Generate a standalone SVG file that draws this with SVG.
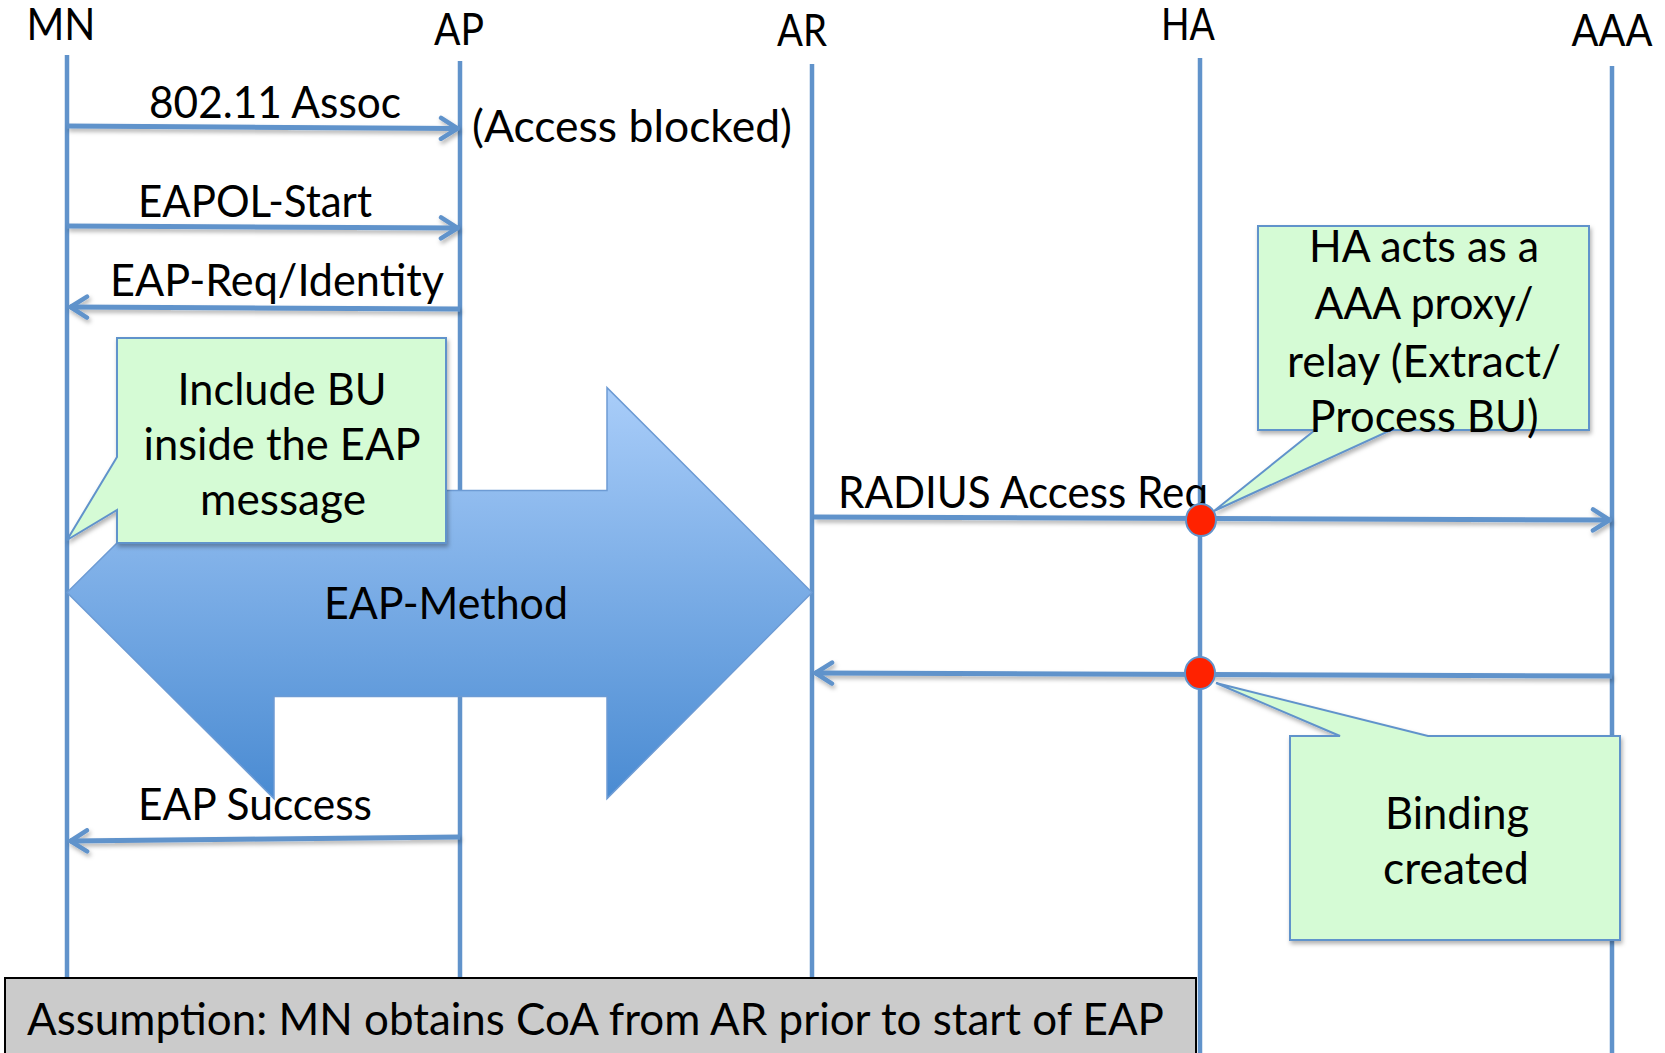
<svg xmlns="http://www.w3.org/2000/svg" width="1665" height="1053" viewBox="0 0 1665 1053">
  <style>
    text { font-family: Lato, "Open Sans", "Liberation Sans", sans-serif; fill: #000; }
    .lbl { font-size: 44px; }
    .life { stroke: #6193cb; stroke-width: 4.5; fill: none; }
    .msg { stroke: #6193cb; stroke-width: 5; fill: none; }
    .note { fill: #d5fbd5; stroke: #6193cb; stroke-width: 2; filter: url(#shadow); }
    .dot { fill: #ff2200; stroke: #6193cb; stroke-width: 2; }
  </style>
  <defs>
    <marker id="head" viewBox="0 0 22 26" refX="20" refY="13" markerWidth="22" markerHeight="26" markerUnits="userSpaceOnUse" orient="auto">
      <path d="M3,2.5 L19.5,13 L3,23.5" fill="none" stroke="#6193cb" stroke-width="4.5" stroke-linecap="round" stroke-linejoin="round"/>
    </marker>
    <linearGradient id="bigArrowFill" x1="0" y1="0" x2="0" y2="1">
      <stop offset="0" stop-color="#a9cdf9"/>
      <stop offset="1" stop-color="#4a8bd2"/>
    </linearGradient>
    <filter id="shadow" filterUnits="userSpaceOnUse" x="0" y="0" width="1665" height="1053">
      <feDropShadow dx="1.5" dy="3" stdDeviation="2" flood-color="#000" flood-opacity="0.3"/>
    </filter>
  </defs>

  <rect width="1665" height="1053" fill="#fff"/>

  <!-- participants: lifeline + header label -->
  <g id="node-MN">
    <line class="life" x1="67" y1="55" x2="67" y2="1053"/>
    <text class="lbl" x="61" y="40" text-anchor="middle" textLength="69" lengthAdjust="spacingAndGlyphs">MN</text>
  </g>
  <g id="node-AP">
    <line class="life" x1="460" y1="61" x2="460" y2="1053"/>
    <text class="lbl" x="459" y="45" text-anchor="middle" textLength="50" lengthAdjust="spacingAndGlyphs">AP</text>
  </g>
  <g id="node-AR">
    <line class="life" x1="812" y1="64" x2="812" y2="1053"/>
    <text class="lbl" x="802" y="46" text-anchor="middle" textLength="50" lengthAdjust="spacingAndGlyphs">AR</text>
  </g>
  <g id="node-HA">
    <line class="life" x1="1200" y1="58" x2="1200" y2="1053"/>
    <text class="lbl" x="1188" y="40" text-anchor="middle" textLength="54" lengthAdjust="spacingAndGlyphs">HA</text>
  </g>
  <g id="node-AAA">
    <line class="life" x1="1612" y1="66" x2="1612" y2="1053"/>
    <text class="lbl" x="1612" y="46" text-anchor="middle" textLength="81" lengthAdjust="spacingAndGlyphs">AAA</text>
  </g>

  <!-- message arrows -->
  <g id="connectors" filter="url(#shadow)">
    <line class="msg" x1="67" y1="126" x2="458" y2="128.5" marker-end="url(#head)"/>
    <line class="msg" x1="67" y1="226" x2="458" y2="228" marker-end="url(#head)"/>
    <line class="msg" x1="460" y1="309" x2="70" y2="307" marker-end="url(#head)"/>
    <line class="msg" x1="460" y1="837" x2="70" y2="841" marker-end="url(#head)"/>
    <line class="msg" x1="814" y1="517" x2="1610" y2="520" marker-end="url(#head)"/>
    <line class="msg" x1="1612" y1="676" x2="815" y2="673" marker-end="url(#head)"/>
  </g>

  <!-- message labels -->
  <g id="labels">
    <text class="lbl" x="275" y="118" text-anchor="middle" textLength="252" lengthAdjust="spacingAndGlyphs">802.11 Assoc</text>
    <text class="lbl" x="632" y="142" text-anchor="middle" textLength="320" lengthAdjust="spacingAndGlyphs">(Access blocked)</text>
    <text class="lbl" x="255" y="217" text-anchor="middle" textLength="234" lengthAdjust="spacingAndGlyphs">EAPOL-Start</text>
    <text class="lbl" x="277" y="296" text-anchor="middle" textLength="334" lengthAdjust="spacingAndGlyphs">EAP-Req/Identity</text>
    <text class="lbl" x="838" y="508" textLength="370" lengthAdjust="spacingAndGlyphs">RADIUS Access Req</text>
  </g>

  <!-- EAP method exchange, drawn as a two-headed block arrow -->
  <g id="node-EAP-Method">
    <polygon points="67,592.5 274,387.6 274,490.6 607,490.6 607,387.6 812,592.5 607,798.6 607,696.6 274,696.6 274,798.6" fill="url(#bigArrowFill)" stroke="#6d9bd4" stroke-width="1.5"/>
    <text class="lbl" x="446" y="619" text-anchor="middle" textLength="244" lengthAdjust="spacingAndGlyphs">EAP-Method</text>
  </g>

  <g id="label-eap-success">
    <text class="lbl" x="255" y="820" text-anchor="middle" textLength="234" lengthAdjust="spacingAndGlyphs">EAP Success</text>
  </g>

  <!-- callout notes -->
  <g id="node-include-bu">
    <path class="note" d="M117,338 H446 V543 H117 V510 L67,540 L117,457 Z"/>
    <text class="lbl" x="282" y="405" text-anchor="middle" textLength="209" lengthAdjust="spacingAndGlyphs">Include BU</text>
    <text class="lbl" x="282" y="460" text-anchor="middle" textLength="277" lengthAdjust="spacingAndGlyphs">inside the EAP</text>
    <text class="lbl" x="283" y="515" text-anchor="middle" textLength="166" lengthAdjust="spacingAndGlyphs">message</text>
  </g>

  <g id="node-ha-proxy">
    <path class="note" d="M1258,226 H1589 V430 H1391 L1214,511 L1315,430 H1258 Z"/>
    <text class="lbl" x="1424" y="262" text-anchor="middle" textLength="230" lengthAdjust="spacingAndGlyphs">HA acts as a</text>
    <text class="lbl" x="1424" y="319" text-anchor="middle" textLength="219" lengthAdjust="spacingAndGlyphs">AAA proxy/</text>
    <text class="lbl" x="1424" y="377" text-anchor="middle" textLength="274" lengthAdjust="spacingAndGlyphs">relay (Extract/</text>
    <text class="lbl" x="1424" y="432" text-anchor="middle" textLength="229" lengthAdjust="spacingAndGlyphs">Process BU)</text>
  </g>

  <g id="node-binding">
    <path class="note" d="M1290,736 H1340 L1216,683 L1428,736 H1620 V940 H1290 Z"/>
    <text class="lbl" x="1457" y="829" text-anchor="middle" textLength="144" lengthAdjust="spacingAndGlyphs">Binding</text>
    <text class="lbl" x="1456" y="884" text-anchor="middle" textLength="146" lengthAdjust="spacingAndGlyphs">created</text>
  </g>

  <!-- processing points on the HA lifeline -->
  <g id="node-ha-points">
    <ellipse class="dot" cx="1201" cy="520" rx="15" ry="16"/>
    <ellipse class="dot" cx="1200" cy="673" rx="15" ry="16"/>
  </g>

  <!-- assumption banner -->
  <g id="node-assumption">
    <rect x="5" y="978" width="1191" height="85" fill="#cbcbcb" stroke="#000" stroke-width="2"/>
    <text class="lbl" x="27" y="1035" textLength="1137" lengthAdjust="spacingAndGlyphs">Assumption: MN obtains CoA from AR prior to start of EAP</text>
  </g>
</svg>
